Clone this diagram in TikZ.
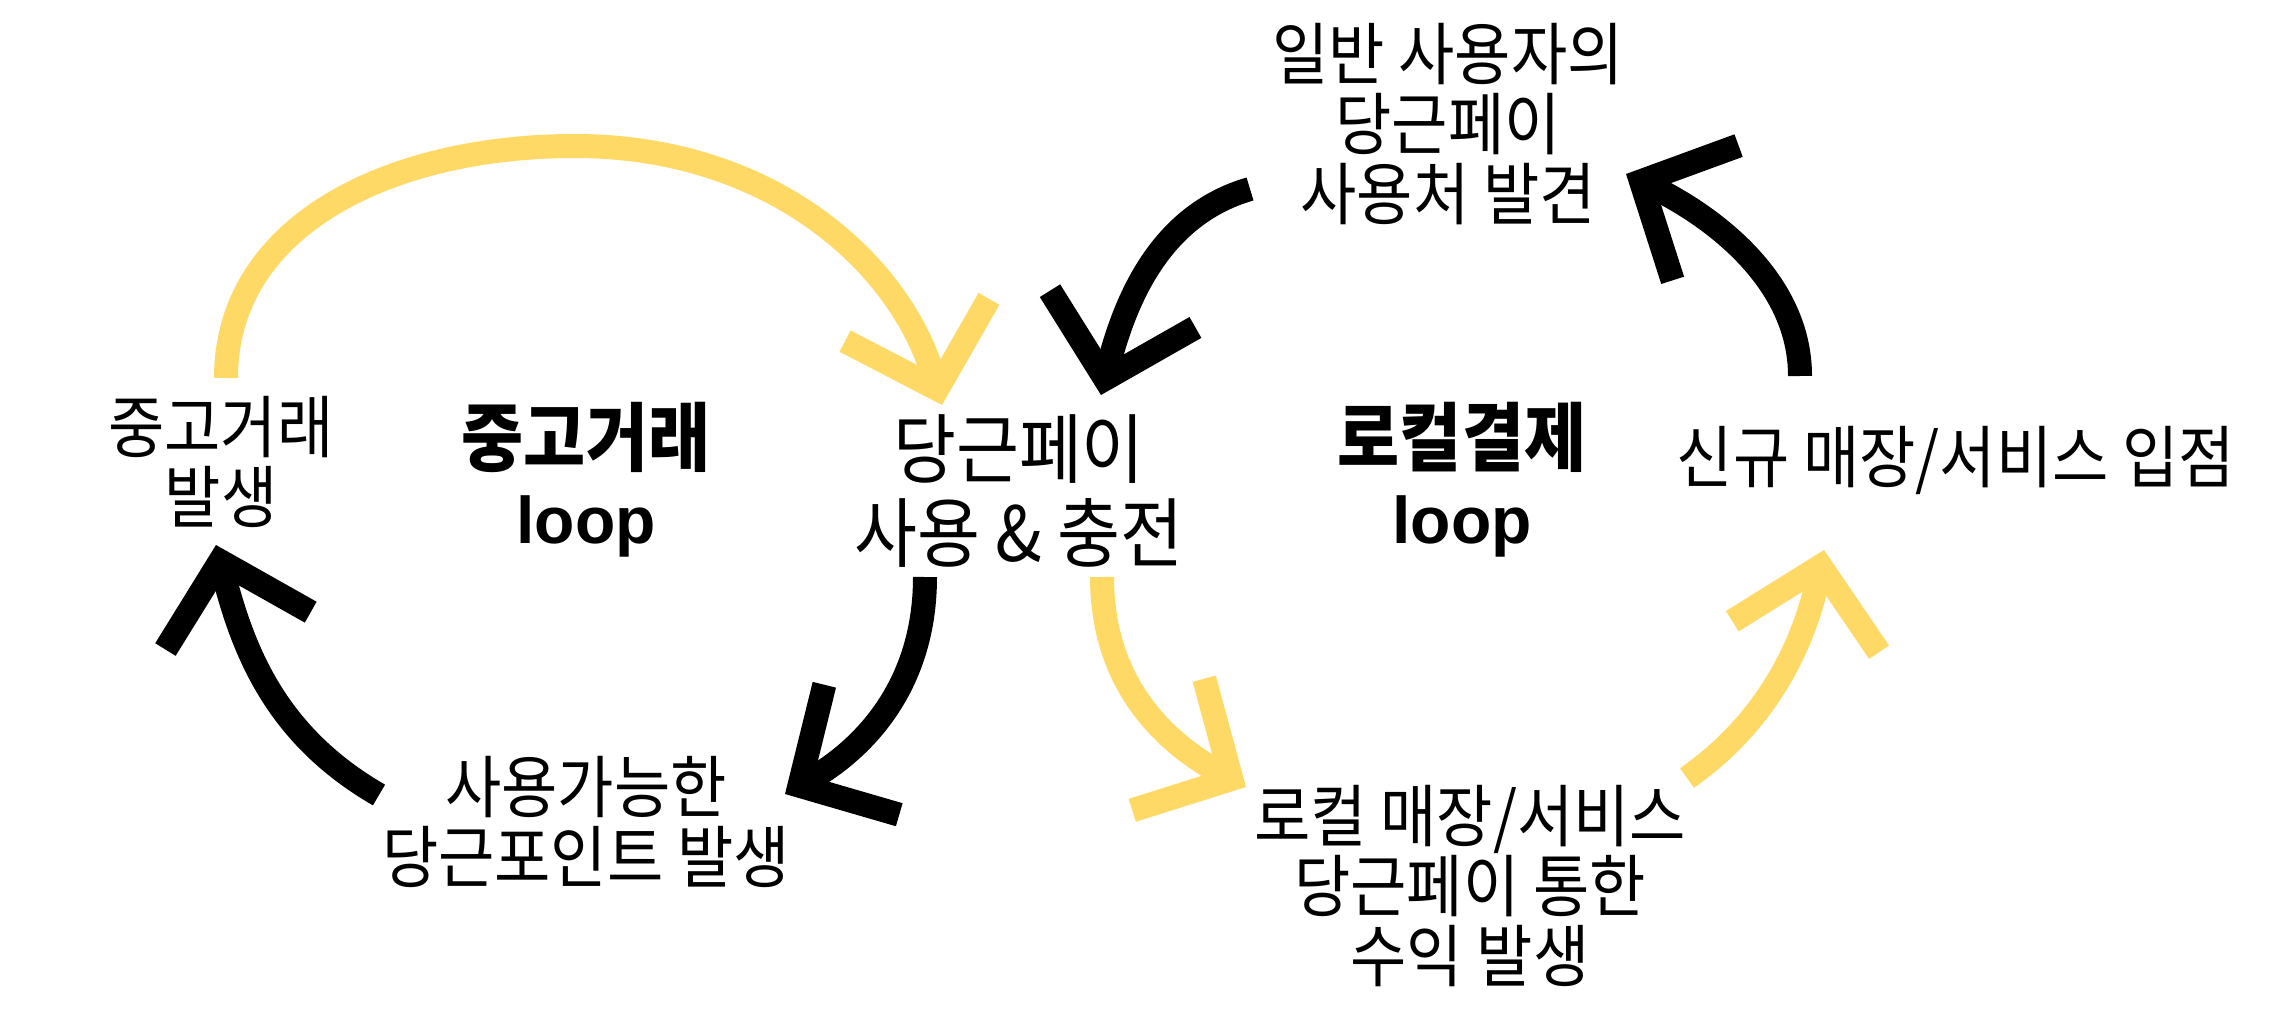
\documentclass[tikz,border=0pt]{standalone}
\usepackage{fontspec}
\usepackage{tikz}
\usetikzlibrary{arrows.meta, positioning}
\newfontfamily\kr{Noto Sans CJK KR}[FakeStretch=0.9]
\newfontfamily\lat{Liberation Sans}
\definecolor{dangyellow}{HTML}{FFD966}

\begin{document}
\begin{tikzpicture}[x=1pt, y=-1pt,
    reg/.style={align=center, font=\kr\fontsize{68}{70}\selectfont},
    big/.style={align=center, font=\kr\fontsize{76}{84}\selectfont},
    loopname/.style={align=center, font=\kr\bfseries\fontsize{75}{78}\selectfont},
    flow/.style={line width=24pt, -{Straight Barb[length=72pt, width=150pt]}},
    ylw/.style={flow, draw=dangyellow},
    blk/.style={flow, draw=black}]
\fill[white] (0,0) rectangle (2280,1025);
\useasboundingbox (0,0) rectangle (2280,1025);

% texts
\node[reg] (trade) at (221,462) {중고거래\\발생};
\node[loopname] (tradeloop) at (586,480) {중고거래\\{\lat\fontsize{66}{78}\selectfont loop}};
\node[big] (pay) at (1019,491) {당근페이\\사용 \& 충전};
\node[loopname] (localloop) at (1462,480) {로컬결제\\{\lat\fontsize{66}{78}\selectfont loop}};
\node[reg] (newstore) at (1956,460) {신규 매장/서비스 입점};
\node[reg] (discover) at (1448,124) {일반 사용자의\\당근페이\\사용처 발견};
\node[reg] (point) at (586,822) {사용가능한\\당근포인트 발생};
\node[reg] (revenue) at (1470,886) {로컬 매장/서비스\\당근페이 통한\\수익 발생};

% arrow ends
\coordinate (tradeA) at (226,378);
\coordinate (payA) at (942,405);
\coordinate (payB) at (925,577);
\coordinate (pointA) at (785,794);
\coordinate (pointB) at (379,795);
\coordinate (tradeB) at (216,545);
\coordinate (payC) at (1102,577);
\coordinate (revA) at (1246,787);
\coordinate (revB) at (1687,778);
\coordinate (storeA) at (1824,550);
\coordinate (storeB) at (1800,376);
\coordinate (discA) at (1626,174);
\coordinate (discB) at (1250,189);
\coordinate (payD) at (1101,395);

% 중고거래 loop
\draw[ylw] (tradeA) .. controls (226,225) and (390,146) .. (575,146)
    .. controls (770,146) and (900,262) .. (payA);
\draw[blk] (payB) .. controls (925,680) and (870,745) .. (pointA);
\draw[blk] (pointB) .. controls (275,735) and (243,650) .. (tradeB);

% 로컬결제 loop
\draw[ylw] (payC) .. controls (1102,680) and (1160,740) .. (revA);
\draw[ylw] (revB) .. controls (1770,720) and (1805,640) .. (storeA);
\draw[blk] (storeB) .. controls (1800,285) and (1720,220) .. (discA);
\draw[blk] (discB) .. controls (1160,215) and (1125,300) .. (payD);
\end{tikzpicture}
\end{document}
